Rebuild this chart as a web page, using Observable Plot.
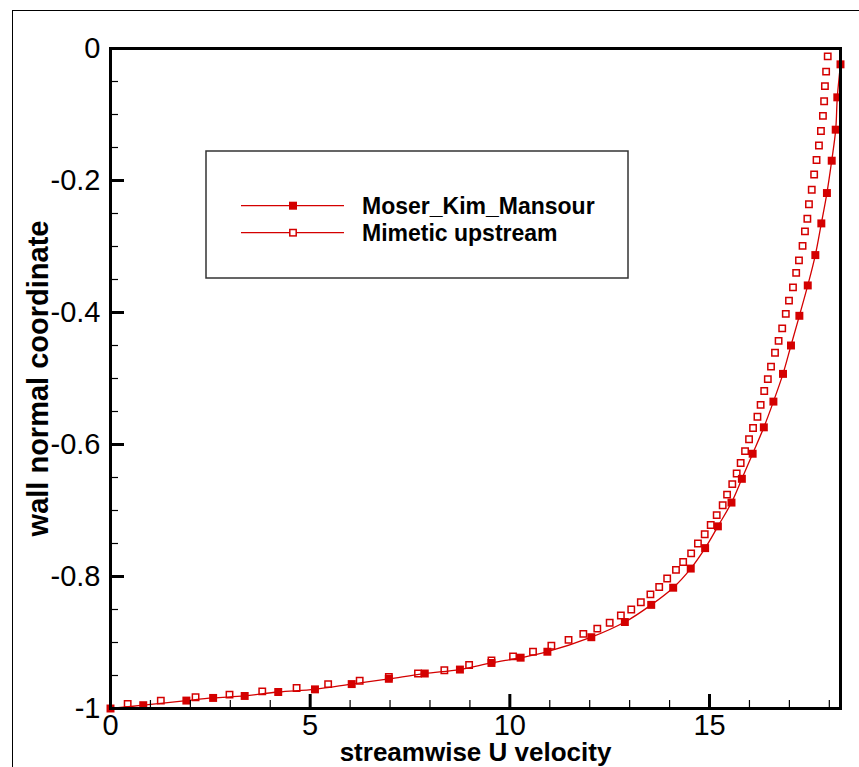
<!DOCTYPE html>
<html><head><meta charset="utf-8">
<script src="https://cdn.jsdelivr.net/npm/d3@7"></script>
<script src="https://cdn.jsdelivr.net/npm/@observablehq/plot@0.6"></script>
<style>
html,body{margin:0;padding:0;background:#fff;overflow:hidden;}
#wrap{position:relative;width:859px;height:767px;overflow:hidden;font-family:"Liberation Sans",Arial,sans-serif;background:#fff;}
#chart{position:absolute;left:0;top:0;}
#frame{position:absolute;left:12px;top:10px;width:900px;height:800px;border-top:1.5px solid #000;border-left:1.5px solid #000;}
#legend{position:absolute;left:205px;top:150px;}
</style></head><body>
<div id="wrap"><div id="chart"></div><div id="frame"></div><div id="legend"></div></div>
<script>
// Series names
const seriesNames = ["Moser_Kim_Mansour", "Mimetic upstream"];
const xTitle = "streamwise U velocity";
const yTitle = "wall normal coordinate";

// Moser_Kim_Mansour (filled squares, with line)
const mkmU = [0, 0.82, 1.90, 2.57, 3.36, 4.20, 5.12, 6.04, 6.97, 7.87, 8.75, 9.54, 10.27, 10.94, 12.04, 12.88, 13.54, 14.09, 14.53, 14.89, 15.21, 15.55, 15.81, 16.08, 16.36, 16.60, 16.84, 17.04, 17.25, 17.46, 17.65, 17.80, 17.94, 18.06, 18.16, 18.20, 18.28];
const mkmY = [-1, -0.995, -0.988, -0.984, -0.981, -0.975, -0.971, -0.963, -0.955, -0.947, -0.941, -0.931, -0.923, -0.914, -0.892, -0.869, -0.843, -0.817, -0.788, -0.757, -0.724, -0.688, -0.652, -0.614, -0.574, -0.535, -0.493, -0.450, -0.405, -0.359, -0.313, -0.265, -0.219, -0.170, -0.123, -0.074, -0.024];

// Mimetic upstream (open squares)
const mimU = [0.43, 1.26, 2.13, 2.98, 3.80, 4.66, 5.45, 6.24, 6.97, 7.70, 8.36, 8.98, 9.54, 10.08, 10.58, 11.04, 11.47, 11.84, 12.19, 12.50, 12.78, 13.04, 13.28, 13.52, 13.74, 13.94, 14.16, 14.34, 14.54, 14.71, 14.88, 15.03, 15.18, 15.33, 15.44, 15.57, 15.68, 15.78, 15.89, 15.99, 16.09, 16.20, 16.28, 16.37, 16.46, 16.54, 16.64, 16.73, 16.82, 16.91, 16.99, 17.09, 17.17, 17.24, 17.33, 17.39, 17.45, 17.49, 17.56, 17.62, 17.68, 17.74, 17.79, 17.84, 17.87, 17.89, 17.92, 17.96];
const mimY = [-0.993, -0.988, -0.983, -0.979, -0.974, -0.969, -0.963, -0.958, -0.952, -0.947, -0.942, -0.934, -0.927, -0.921, -0.914, -0.905, -0.896, -0.887, -0.879, -0.870, -0.859, -0.850, -0.839, -0.827, -0.816, -0.803, -0.790, -0.778, -0.765, -0.750, -0.736, -0.722, -0.707, -0.692, -0.676, -0.660, -0.644, -0.628, -0.610, -0.592, -0.575, -0.558, -0.540, -0.519, -0.501, -0.482, -0.461, -0.443, -0.424, -0.402, -0.382, -0.362, -0.340, -0.321, -0.299, -0.277, -0.258, -0.236, -0.214, -0.191, -0.169, -0.147, -0.125, -0.102, -0.080, -0.057, -0.035, -0.012];

// Ticks
const xMajor = [0, 5, 10, 15];
const xMinor = [1, 2, 3, 4, 6, 7, 8, 9, 11, 12, 13, 14, 16, 17, 18];
const yMajor = [0, -0.2, -0.4, -0.6, -0.8, -1];
const yMinor = [-0.05, -0.1, -0.15, -0.25, -0.3, -0.35, -0.45, -0.5, -0.55, -0.65, -0.7, -0.75, -0.85, -0.9, -0.95];

const red = "#d40000";
const mkm = mkmU.map((u, i) => ({u, y: mkmY[i]}));
const mim = mimU.map((u, i) => ({u, y: mimY[i]}));

const chart = Plot.plot({
  width: 859, height: 767,
  marginLeft: 110, marginRight: 19, marginTop: 48, marginBottom: 59,
  x: {domain: [0, 18.28]},
  y: {domain: [-1, 0]},
  style: {fontFamily: '"Liberation Sans", Arial, sans-serif', background: "transparent", color: "#000"},
  marks: [
    Plot.line(mkm, {x: "u", y: "y", stroke: red, strokeWidth: 1.3, curve: "catmull-rom"}),
    Plot.dot(mim, {x: "u", y: "y", symbol: "square", r: 3.6, stroke: red, strokeWidth: 1.5, fill: "none"}),
    Plot.dot(mkm, {x: "u", y: "y", symbol: "square", r: 4.5, fill: red, stroke: "none"}),
    Plot.axisX(xMinor, {tickSize: -8, strokeWidth: 1.2, tickFormat: () => "", label: null}),
    Plot.axisX(xMajor, {tickSize: -14, strokeWidth: 3, tickFormat: () => "", label: null}),
    Plot.axisX(xMajor, {tickSize: 0, tickPadding: 6, fontSize: 29, tickFormat: d => String(d), label: null}),
    Plot.axisY(yMinor, {tickSize: -8, strokeWidth: 1.2, tickFormat: () => "", label: null}),
    Plot.axisY(yMajor, {tickSize: -14, strokeWidth: 3, tickFormat: () => "", label: null}),
    Plot.axisY(yMajor, {tickSize: 0, tickPadding: 10, fontSize: 29, tickFormat: d => String(d), label: null}),
    Plot.frame({stroke: "#000", strokeWidth: 3}),
    Plot.text([xTitle], {text: d => d, frameAnchor: "bottom", textAnchor: "middle", lineAnchor: "middle", dy: 44, fontSize: 26, fontWeight: "bold"}),
    Plot.text([yTitle], {text: d => d, frameAnchor: "left", textAnchor: "middle", lineAnchor: "middle", rotate: -90, dx: -72, fontSize: 29, fontWeight: "bold"})
  ]
});
document.getElementById("chart").appendChild(chart);

// Legend
const ns = "http://www.w3.org/2000/svg";
const lg = document.createElementNS(ns, "svg");
lg.setAttribute("width", 426); lg.setAttribute("height", 131);
const mk = (tag, attrs) => { const e = document.createElementNS(ns, tag); for (const k in attrs) e.setAttribute(k, attrs[k]); lg.appendChild(e); return e; };
mk("rect", {x: 1, y: 1, width: 422, height: 127, fill: "#fff", stroke: "#333", "stroke-width": 1.5});
seriesNames.forEach((name, i) => {
  const cy = 55.7 + i * 27;
  mk("line", {x1: 36, x2: 139, y1: cy, y2: cy, stroke: red, "stroke-width": 1.3});
  if (i === 0) mk("rect", {x: 88 - 4, y: cy - 4, width: 8, height: 8, fill: red});
  else mk("rect", {x: 88 - 3.2, y: cy - 3.2, width: 6.4, height: 6.4, fill: "#fff", stroke: red, "stroke-width": 1.5});
  const t = mk("text", {x: 157, y: cy + 7.8, "font-size": 23, "font-weight": "bold", "font-family": '"Liberation Sans", Arial, sans-serif', fill: "#000"});
  t.textContent = name;
});
document.getElementById("legend").appendChild(lg);
</script>
</body></html>
